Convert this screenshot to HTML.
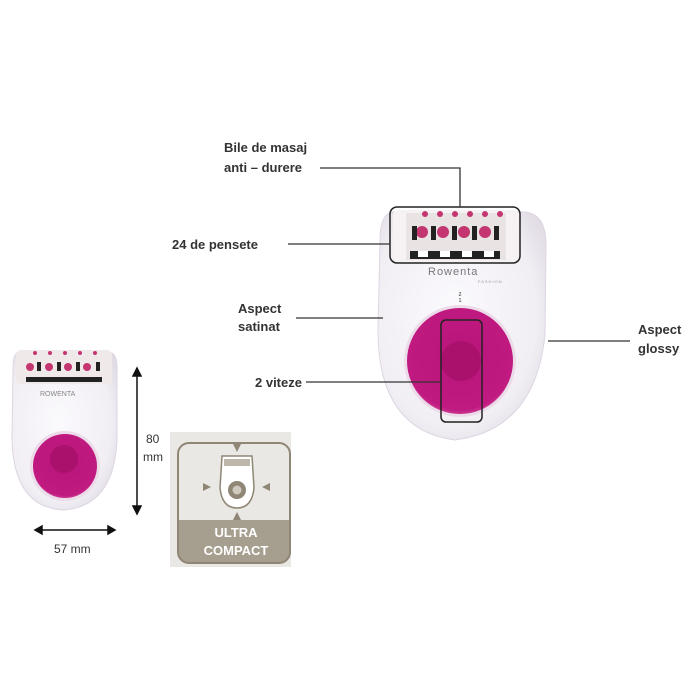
<!DOCTYPE html>
<html><head><meta charset="utf-8"><style>
html,body{margin:0;padding:0;background:#fff;width:700px;height:700px;overflow:hidden}
text{font-family:"Liberation Sans",Arial,sans-serif;font-weight:bold;fill:#333;font-size:13px}
</style></head><body>
<svg width="700" height="700" viewBox="0 0 700 700" xmlns="http://www.w3.org/2000/svg">
<defs>
<radialGradient id="bd" cx="0.45" cy="0.45" r="0.7"><stop offset="0" stop-color="#fbfafd"/><stop offset="0.7" stop-color="#f1eef4"/><stop offset="1" stop-color="#dcd6e0"/></radialGradient>
<radialGradient id="pk" cx="0.5" cy="0.45" r="0.6"><stop offset="0" stop-color="#b8147a"/><stop offset="0.85" stop-color="#c01a80"/><stop offset="1" stop-color="#d85aa6"/></radialGradient>
</defs>
<!-- big device -->
<path d="M393,212 Q380,214 380,240 L378,330 Q378,430 455,440 Q535,430 545,335 L546,245 Q546,214 525,212 Z" fill="url(#bd)" stroke="#ddd6e2"/>
<rect x="393" y="210" width="126" height="52" rx="6" fill="#f6f2f3"/>
<rect x="406" y="213" width="100" height="47" fill="#e9e3e4"/>
<g fill="#c4366f">
<circle cx="422" cy="232" r="6"/><circle cx="443" cy="232" r="6"/><circle cx="464" cy="232" r="6"/><circle cx="485" cy="232" r="6"/>
<circle cx="425" cy="214" r="3"/><circle cx="440" cy="214" r="3"/><circle cx="455" cy="214" r="3"/><circle cx="470" cy="214" r="3"/><circle cx="485" cy="214" r="3"/><circle cx="500" cy="214" r="3"/>
</g>
<g fill="#222"><rect x="412" y="226" width="5" height="14"/><rect x="431" y="226" width="5" height="14"/><rect x="452" y="226" width="5" height="14"/><rect x="472" y="226" width="5" height="14"/><rect x="494" y="226" width="5" height="14"/>
<rect x="410" y="251" width="90" height="8"/></g>
<g fill="#fff"><rect x="418" y="251" width="10" height="6"/><rect x="440" y="251" width="10" height="6"/><rect x="462" y="251" width="10" height="6"/><rect x="484" y="251" width="10" height="6"/></g>
<rect x="390" y="207" width="130" height="56" rx="7" fill="none" stroke="#222" stroke-width="1.5"/>
<text x="428" y="275" style="font-size:11px;fill:#777;font-weight:normal;letter-spacing:1px">Rowenta</text>
<text x="478" y="283" style="font-size:4px;fill:#999;font-weight:normal;letter-spacing:1px">FASHION</text>
<text x="460" y="296" style="font-size:5px;fill:#666" text-anchor="middle">2</text>
<text x="460" y="302" style="font-size:5px;fill:#666" text-anchor="middle">1</text>
<circle cx="460" cy="361" r="56" fill="#ecdbe8"/>
<circle cx="460" cy="361" r="53" fill="url(#pk)"/>
<circle cx="461" cy="361" r="20" fill="#a9116c"/>
<rect x="441" y="320" width="41" height="102" rx="5" fill="none" stroke="#222" stroke-width="1.5"/>
<!-- leaders -->
<g stroke="#333" stroke-width="1.3" fill="none">
<polyline points="320,168 460,168 460,207"/>
<line x1="288" y1="244" x2="390" y2="244"/>
<line x1="296" y1="318" x2="383" y2="318"/>
<line x1="306" y1="382" x2="440" y2="382"/>
<line x1="548" y1="341" x2="630" y2="341"/>
</g>
<text x="224" y="152">Bile de masaj</text>
<text x="224" y="172">anti – durere</text>
<text x="172" y="249">24 de pensete</text>
<text x="238" y="313">Aspect</text>
<text x="238" y="331">satinat</text>
<text x="255" y="387">2 viteze</text>
<text x="638" y="334">Aspect</text>
<text x="638" y="353">glossy</text>
<!-- small device -->
<path d="M20,352 Q13,352 13,368 L12,440 Q14,508 64,510 Q114,506 117,440 L117,368 Q117,352 108,352 Z" fill="url(#bd)" stroke="#ddd6e2"/>
<rect x="16" y="350" width="96" height="34" rx="5" fill="#efe9ea"/>
<g fill="#c4366f"><circle cx="30" cy="367" r="4"/><circle cx="49" cy="367" r="4"/><circle cx="68" cy="367" r="4"/><circle cx="87" cy="367" r="4"/>
<circle cx="35" cy="353" r="2"/><circle cx="50" cy="353" r="2"/><circle cx="65" cy="353" r="2"/><circle cx="80" cy="353" r="2"/><circle cx="95" cy="353" r="2"/></g>
<g fill="#222"><rect x="37" y="362" width="4" height="9"/><rect x="57" y="362" width="4" height="9"/><rect x="76" y="362" width="4" height="9"/><rect x="96" y="362" width="4" height="9"/><rect x="26" y="377" width="76" height="5"/></g>
<text x="40" y="396" style="font-size:7px;fill:#888;font-weight:normal">ROWENTA</text>
<circle cx="65" cy="466" r="35" fill="#ecdbe8"/>
<circle cx="65" cy="466" r="32" fill="url(#pk)"/>
<circle cx="64" cy="459" r="14" fill="#a9116c"/>
<g stroke="#111" stroke-width="1.5" fill="#111">
<line x1="137" y1="374" x2="137" y2="508"/><path d="M133,376 L137,368 L141,376Z"/><path d="M133,506 L137,514 L141,506Z"/>
<line x1="40" y1="530" x2="110" y2="530"/><path d="M42,526 L35,530 L42,534Z"/><path d="M108,526 L115,530 L108,534Z"/>
</g>
<text x="146" y="443" style="font-weight:normal;font-size:12px">80</text>
<text x="143" y="461" style="font-weight:normal;font-size:12px">mm</text>
<text x="54" y="553" style="font-weight:normal;font-size:12px">57 mm</text>
<!-- ultra compact -->
<rect x="170" y="432" width="121" height="135" fill="#eae8e4"/>
<path d="M178,520 L290,520 L290,552 Q290,563 279,563 L189,563 Q178,563 178,552Z" fill="#a69e8e"/>
<rect x="178" y="443" width="112" height="120" rx="11" fill="none" stroke="#8f8676" stroke-width="2"/>
<path d="M222,456 L252,456 L254,488 Q252,508 237,508 Q222,508 220,488Z" fill="#fff" stroke="#8f8676" stroke-width="1.5"/>
<rect x="224" y="459" width="26" height="7" fill="#bdb6aa"/>
<circle cx="237" cy="490" r="9" fill="#8f8676"/><circle cx="237" cy="490" r="4.5" fill="#cfc9bf"/>
<g fill="#8f8676"><path d="M233,444 L241,444 L237,452Z"/><path d="M233,520 L241,520 L237,512Z"/><path d="M203,483 L203,491 L211,487Z"/><path d="M270,483 L270,491 L262,487Z"/></g>
<text x="236" y="537" text-anchor="middle" style="fill:#fff;font-size:13px">ULTRA</text>
<text x="236" y="555" text-anchor="middle" style="fill:#fff;font-size:13px">COMPACT</text>
</svg>
</body></html>
